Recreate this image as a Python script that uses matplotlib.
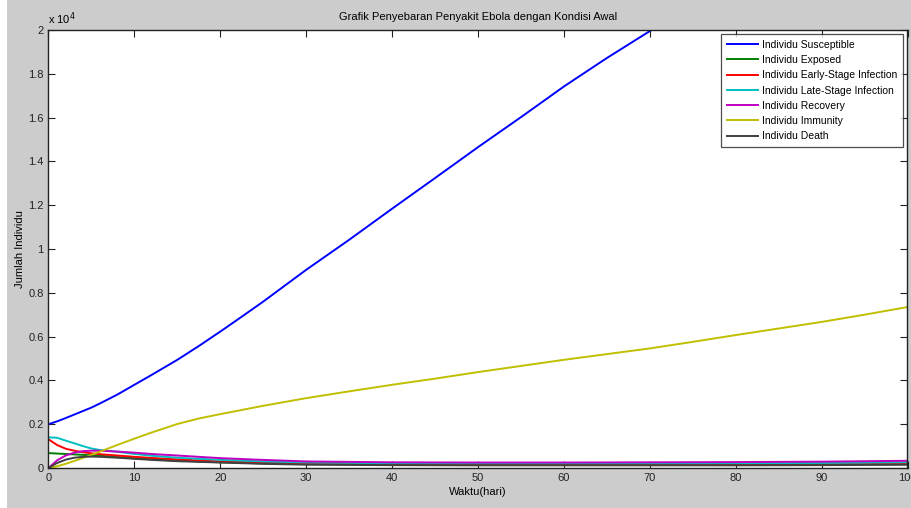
import matplotlib.pyplot as plt
from matplotlib.patches import Rectangle

plt.rcParams['font.family'] = ['Liberation Sans', 'DejaVu Sans']

# data (jumlah individu)
hari_s = [0, 1, 2, 3, 4, 5, 6, 8, 10, 12, 15, 17.5, 20, 22.5, 25, 30, 35, 40, 45, 50, 55, 60,
          65, 70, 75]
susceptible = [2000, 2130, 2280, 2440, 2600, 2760, 2950, 3350, 3800, 4250, 4940, 5570, 6230,
               6910, 7600, 9050, 10420, 11840, 13240, 14650, 16020, 17420, 18720, 19950, 21200]

hari_i = [0, 1, 2, 3, 4, 5, 6, 8, 10, 12, 15, 17.5, 20, 25, 30, 35, 40, 45, 50, 55, 60, 65, 70,
          75, 80, 85, 90, 95, 100]
immunity = [0, 80, 190, 320, 460, 600, 750, 1050, 1340, 1620, 2010, 2260, 2460, 2840, 3190,
            3500, 3800, 4080, 4380, 4660, 4940, 5200, 5460, 5760, 6070, 6370, 6670, 7000, 7350]

hari = [0, 1, 2, 3, 4, 5, 6, 8, 10, 12, 15, 20, 25, 30, 40, 50, 60, 70, 80, 90, 100]
exposed = [680, 660, 640, 620, 600, 580, 560, 500, 440, 400, 340, 260, 210, 180, 160, 150,
           150, 150, 150, 160, 170]
early = [1310, 1050, 880, 790, 720, 670, 630, 570, 510, 460, 390, 300, 250, 220, 200, 190,
         190, 190, 190, 200, 210]
late = [1400, 1380, 1250, 1130, 1000, 890, 820, 740, 640, 560, 470, 370, 300, 250, 220, 210,
        210, 210, 220, 230, 260]
recovery = [0, 350, 570, 700, 770, 790, 790, 750, 700, 640, 570, 450, 370, 300, 260, 250,
            250, 260, 270, 290, 330]
death = [0, 230, 380, 470, 510, 520, 510, 470, 420, 370, 310, 250, 190, 150, 130, 120,
         120, 120, 120, 130, 150]

label = ['Individu Susceptible', 'Individu Exposed', 'Individu Early-Stage Infection',
         'Individu Late-Stage Infection', 'Individu Recovery', 'Individu Immunity',
         'Individu Death']
warna = ['#0000ff', '#008000', '#ff0000', '#00bfbf', '#bf00bf', '#bfbf00', '#404040']

fig = plt.figure(figsize=(9.12, 5.08), dpi=100, facecolor='#cccccc')
fig.patches.append(Rectangle((0, 0), 7 / 912, 1, transform=fig.transFigure,
                             facecolor='white', edgecolor='none', zorder=0))
ax = fig.add_axes([48.5 / 912, 40 / 508, 859 / 912, 438 / 508])

seri = [(hari_s, susceptible), (hari, exposed), (hari, early), (hari, late),
        (hari, recovery), (hari_i, immunity), (hari, death)]
for (t, v), lb, c in zip(seri, label, warna):
    ax.plot(t, v, color=c, lw=1.4, label=lb)

ax.set_xlim(0, 100)
ax.set_ylim(0, 20000)
ax.set_xticks(range(0, 101, 10))
yt = list(range(0, 20001, 2000))
ax.set_yticks(yt)
ax.set_yticklabels(['%g' % (v / 1e4) for v in yt])
ax.tick_params(direction='in', top=True, right=True, length=5, width=0.8,
               labelsize=8, colors='#222222')
for s in ax.spines.values():
    s.set_linewidth(1.0)
    s.set_color('#222222')

ax.text(0.0, 1.006, 'x 10$^4$', transform=ax.transAxes, fontsize=8, ha='left', va='bottom')
ax.set_title('Grafik Penyebaran Penyakit Ebola dengan Kondisi Awal', fontsize=8, pad=7)
ax.set_xlabel('Waktu(hari)', fontsize=8, labelpad=3)
ax.set_ylabel('Jumlah Individu', fontsize=8, labelpad=2)

leg = ax.legend(loc='upper right', fontsize=7.5, frameon=True, fancybox=False,
                borderaxespad=0.4, handlelength=3.0, labelspacing=0.5, borderpad=0.55,
                handletextpad=0.4)
leg.get_frame().set_edgecolor('#222222')
leg.get_frame().set_linewidth(0.9)

fig.savefig('out.png', dpi=100, facecolor=fig.get_facecolor())
